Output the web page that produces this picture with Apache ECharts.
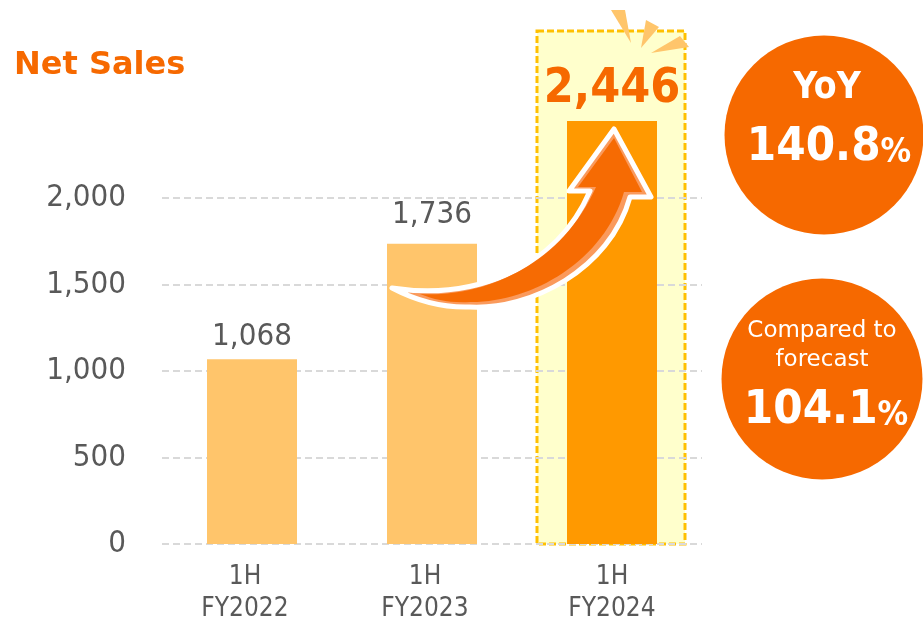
<!DOCTYPE html>
<html>
<head>
<meta charset="utf-8">
<style>html,body{margin:0;padding:0;background:#fff}#c{width:923px;height:618px}</style>
<script src="https://cdn.jsdelivr.net/npm/echarts@6/dist/echarts.min.js"></script>
</head>
<body>
<div id="c"></div>
<script>
const categories = ['1H\nFY2022', '1H\nFY2023', '1H\nFY2024'];
const netSales = [1068, 1736, 2446];
const yTicks = { min: 0, max: 2000, interval: 500 };
const titleText = 'Net Sales';
const yoyLabel = 'YoY';
const yoyValue = '140.8';
const forecastLabel = 'Compared to\nforecast';
const forecastValue = '104.1';

const FONT = '"DejaVu Sans", Verdana, sans-serif';
const COND = '"DejaVu Sans Condensed", "DejaVu Sans", sans-serif';
const ORANGE = '#F66900', LIGHT = '#FFC56B', BAR = '#FF9900', GREY = '#595959';

// Curved arrow decoration
const arrowOuter = { start: [392, 288], up: [470, 300, 555, 272, 590, 191], head: [[569, 191], [614, 129], [651, 197], [630, 197]], down: [[610, 270, 530, 310, 470, 307], [440, 308, 415, 300, 392, 288]] };
const arrowInner = { start: [420, 294], up: [480, 298, 560, 268, 596, 187], head: [[578, 187], [614, 138], [642, 192], [624, 192]], down: [[604, 262, 530, 303, 470, 302], [450, 303, 435, 300, 420, 294]] };

echarts.graphic.registerShape('curvedArrow', echarts.graphic.extendShape({
  shape: { start: [0, 0], up: [0, 0, 0, 0, 0, 0], head: [], down: [] },
  buildPath(ctx, s) {
    ctx.moveTo(s.start[0], s.start[1]);
    ctx.bezierCurveTo(...s.up);
    s.head.forEach(p => ctx.lineTo(p[0], p[1]));
    s.down.forEach(c => ctx.bezierCurveTo(...c));
    ctx.closePath();
  }
}));

function bigPct(v) { return '{n|' + v + '}{p|%}'; }
const bigRich = {
  n: { fontFamily: COND, fontWeight: 'bold', fontSize: 47, fill: '#fff', color: '#fff' },
  p: { fontFamily: COND, fontWeight: 'bold', fontSize: 34, fill: '#fff', color: '#fff', padding: [10, 0, 0, 0] }
};
const catStyle = { fontFamily: COND, fontSize: 26, color: GREY, lineHeight: 32 };

const chart = echarts.init(document.getElementById('c'), null, { renderer: 'canvas' });
chart.setOption({
  animation: false,
  backgroundColor: '#fff',
  title: {
    text: titleText, left: 14, top: 47, padding: 0,
    textStyle: { fontFamily: FONT, fontWeight: 'bold', fontSize: 32, color: ORANGE, lineHeight: 38 }
  },
  grid: { left: 162, right: 221, top: 121, bottom: 74, containLabel: false, outerBoundsMode: 'none' },
  xAxis: {
    type: 'category', data: categories,
    axisLine: { show: false }, axisTick: { show: false },
    axisLabel: {
      margin: 17, interval: 0, hideOverlap: false, ...catStyle,
      formatter: (v, i) => v.split('\n').map(t => '{' + (i < 2 ? 'off' : 'on') + '|' + t + '}').join('\n'),
      rich: { off: { ...catStyle, padding: [0, 14, 0, 0] }, on: { ...catStyle } }
    }
  },
  yAxis: {
    type: 'value', min: yTicks.min, max: 2446, interval: yTicks.interval,
    axisLine: { show: false }, axisTick: { show: false },
    axisLabel: {
      fontFamily: COND, fontSize: 31, color: GREY, margin: 36, padding: [8, 0, 0, 0],
      showMaxLabel: false,
      formatter: v => echarts.format.addCommas(v)
    },
    splitLine: { show: true, showMaxLine: false, lineStyle: { color: '#D9D9D9', width: 2, type: [7, 4] } }
  },
  series: [{
    type: 'bar', barWidth: 90,
    data: netSales.map((v, i) => ({
      value: v,
      itemStyle: { color: i === 2 ? BAR : LIGHT },
      label: i === 2
        ? { fontSize: 48, fontWeight: 'bold', color: ORANGE, distance: 7 }
        : (i === 1 ? { distance: 13 } : {})
    })),
    label: {
      show: true, position: 'top', distance: 7,
      fontFamily: COND, fontSize: 31, color: GREY,
      formatter: p => echarts.format.addCommas(p.value)
    }
  }],
  graphic: { elements: [
    { type: 'rect', z: -10, silent: true,
      shape: { x: 537, y: 31, width: 148, height: 513 },
      style: { fill: '#FFFFCC', stroke: '#FFC000', lineWidth: 3, lineDash: [7, 3] } },
    { type: 'polygon', z: 50, shape: { points: [[611, 10], [625, 10], [631, 43]] }, style: { fill: LIGHT } },
    { type: 'polygon', z: 50, shape: { points: [[646, 20], [659, 27], [641, 48]] }, style: { fill: LIGHT } },
    { type: 'polygon', z: 50, shape: { points: [[680, 36], [689, 47], [651, 53]] }, style: { fill: LIGHT } },
    { type: 'curvedArrow', z: 60, shape: arrowOuter,
      style: { fill: '#FA9A5C', stroke: '#fff', lineWidth: 5, lineJoin: 'round' } },
    { type: 'curvedArrow', z: 61, shape: arrowInner,
      style: { fill: ORANGE, opacity: 0.96 } },
    { type: 'circle', z: 70, shape: { cx: 824, cy: 135, r: 99.5 }, style: { fill: ORANGE } },
    { type: 'circle', z: 70, shape: { cx: 822, cy: 379, r: 100.5 }, style: { fill: ORANGE } },
    { type: 'text', z: 71, x: 827, y: 88,
      style: { text: yoyLabel, fill: '#fff', font: 'bold 37px ' + COND, textAlign: 'center', textVerticalAlign: 'middle' } },
    { type: 'text', z: 71, x: 829, y: 148,
      style: { text: bigPct(yoyValue), rich: bigRich, textAlign: 'center', textVerticalAlign: 'middle' } },
    { type: 'text', z: 71, x: 822, y: 346,
      style: { text: forecastLabel, fill: '#fff', font: '23px ' + FONT, lineHeight: 29, textAlign: 'center', textVerticalAlign: 'middle' } },
    { type: 'text', z: 71, x: 826, y: 411,
      style: { text: bigPct(forecastValue), rich: bigRich, textAlign: 'center', textVerticalAlign: 'middle' } }
  ] }
});
</script>
</body>
</html>
